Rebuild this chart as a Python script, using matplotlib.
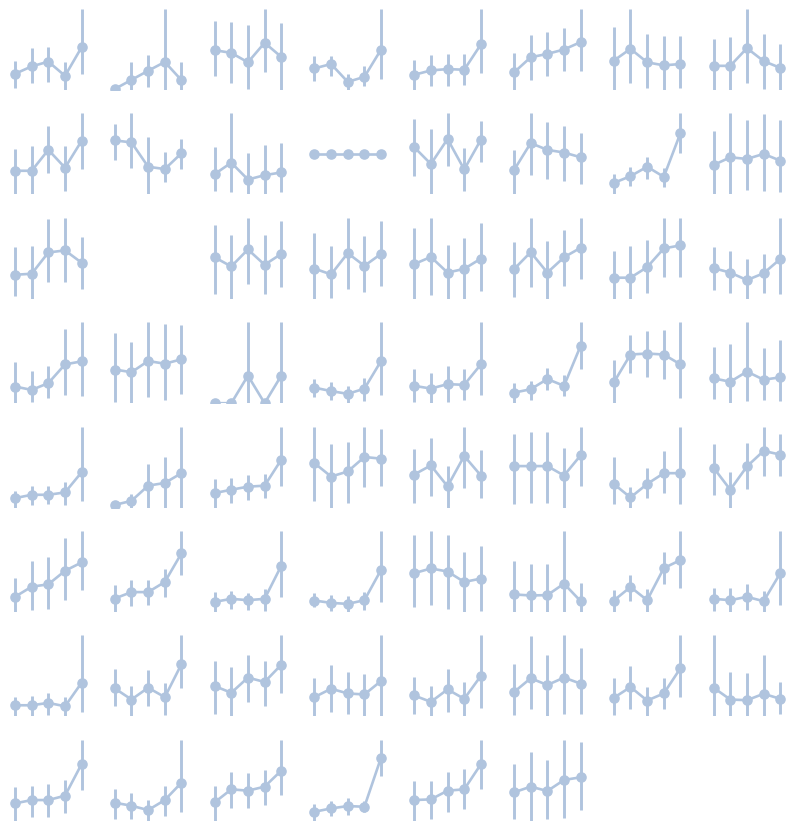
import matplotlib
matplotlib.use("Agg")
import matplotlib.pyplot as plt

# 8x8 grid of small panels, one slot is empty and the last row stops after 6
n_cols = 8
n_rows = 8
empty_slots = [17, 62, 63]
x_steps = [0, 1, 2, 3, 4]

# point estimate per step for each panel
point_means = [
    [48, 70, 84, 42, 127], [3, 30, 57, 83, 29], [118, 110, 82, 140, 98], [64, 77, 24, 39, 120],
    [45, 58, 62, 60, 135], [52, 97, 107, 120, 142], [87, 122, 82, 73, 77], [73, 73, 125, 87, 67],
    [70, 70, 132, 79, 159], [160, 154, 82, 75, 122], [60, 94, 44, 57, 65], [50, 50, 50, 50, 50],
    [140, 90, 164, 74, 162], [72, 152, 132, 124, 110], [34, 54, 82, 52, 182], [87, 110, 105, 120, 100],
    [74, 77, 139, 145, 109], [124, 97, 147, 102, 134], [92, 75, 137, 100, 135], [104, 125, 79, 90, 120],
    [89, 139, 79, 124, 152], [64, 64, 95, 150, 159], [92, 79, 57, 77, 119],
    [49, 39, 59, 114, 123], [99, 91, 124, 116, 129], [0, 0, 81, 0, 81], [49, 39, 31, 46, 126],
    [51, 43, 56, 54, 114], [31, 41, 71, 51, 169], [61, 143, 146, 143, 114], [73, 63, 93, 69, 76],
    [28, 38, 38, 45, 105], [8, 20, 65, 73, 102], [43, 53, 62, 65, 142], [132, 92, 107, 150, 145],
    [98, 125, 63, 153, 95], [123, 123, 123, 95, 155], [70, 30, 70, 102, 102], [118, 53, 122, 168, 157],
    [45, 75, 82, 122, 147], [40, 59, 59, 89, 174], [30, 39, 35, 39, 137], [34, 27, 24, 35, 125],
    [115, 129, 120, 89, 99], [52, 49, 50, 84, 32], [34, 74, 35, 130, 154], [39, 35, 45, 32, 115],
    [33, 33, 40, 30, 100], [83, 50, 85, 57, 155], [90, 70, 115, 102, 153], [57, 82, 68, 65, 105],
    [62, 43, 80, 52, 120], [72, 113, 93, 115, 97], [55, 87, 47, 68, 143], [85, 50, 48, 67, 52],
    [52, 62, 62, 75, 170], [54, 45, 32, 62, 114], [55, 94, 90, 102, 150], [27, 37, 44, 42, 189],
    [62, 64, 90, 94, 169], [85, 102, 89, 122, 130],
]
# lower end of each interval
ci_low = [
    [5, 22, 25, 0, 48], [3, 0, 8, 0, 0], [42, 22, 2, 52, 0], [28, 42, 0, 12, 32],
    [0, 12, 12, 15, 50], [0, 30, 42, 55, 55], [0, 20, 5, 0, 5], [2, 2, 22, 5, 2],
    [0, 0, 62, 10, 75], [102, 77, 0, 37, 75], [10, 7, 0, 0, 7], [50, 50, 50, 50, 50],
    [54, 0, 85, 10, 97], [0, 57, 47, 39, 32], [0, 24, 47, 22, 124], [0, 0, 12, 10, 7],
    [12, 4, 52, 54, 32], [17, 2, 45, 15, 37], [4, 7, 34, 24, 42], [2, 14, 2, 2, 24],
    [7, 37, 2, 40, 60], [2, 2, 20, 67, 67], [27, 20, 2, 20, 17],
    [0, 4, 14, 24, 21], [4, 0, 18, 9, 28], [0, 0, 0, 0, 0], [21, 14, 4, 11, 28],
    [4, 0, 4, 8, 24], [0, 9, 38, 21, 101], [0, 89, 76, 71, 16], [11, 0, 6, 8, 6],
    [0, 8, 10, 8, 20], [8, 0, 0, 0, 0], [0, 13, 23, 28, 63], [20, 0, 15, 60, 65],
    [13, 33, 0, 57, 27], [10, 13, 13, 0, 65], [10, 0, 27, 42, 10], [38, 0, 55, 95, 95],
    [0, 7, 10, 35, 65], [0, 17, 20, 44, 109], [0, 10, 7, 4, 44], [14, 4, 0, 7, 30],
    [14, 20, 10, 0, 2], [0, 0, 0, 0, 0], [0, 32, 0, 84, 72], [2, 0, 7, 0, 22],
    [0, 0, 5, 0, 13], [30, 0, 30, 5, 83], [8, 0, 42, 30, 68], [2, 12, 8, 2, 0],
    [8, 0, 12, 0, 25], [5, 22, 0, 8, 8], [5, 22, 0, 22, 57], [0, 0, 0, 0, 8],
    [0, 12, 12, 22, 92], [5, 5, 0, 15, 27], [0, 39, 39, 47, 77], [0, 14, 17, 25, 134],
    [0, 5, 25, 34, 94], [4, 0, 5, 7, 32],
]
# upper end of each interval
ci_high = [
    [85, 125, 127, 82, 240], [3, 83, 105, 240, 83], [205, 202, 194, 240, 200], [100, 100, 48, 70, 240],
    [88, 103, 107, 107, 240], [110, 163, 172, 183, 240], [187, 240, 167, 160, 160], [153, 157, 240, 168, 137],
    [135, 142, 202, 142, 240], [209, 240, 169, 127, 164], [139, 240, 122, 145, 152], [50, 50, 50, 50, 50],
    [222, 194, 240, 137, 217], [132, 240, 214, 202, 182], [60, 82, 110, 77, 240], [187, 240, 220, 237, 220],
    [154, 157, 237, 240, 184], [220, 190, 240, 190, 230], [195, 157, 240, 187, 230], [209, 240, 160, 182, 225],
    [169, 240, 172, 205, 240], [142, 157, 175, 240, 240], [154, 142, 119, 134, 240],
    [121, 94, 109, 218, 238], [206, 181, 238, 233, 229], [0, 0, 238, 0, 238], [73, 66, 54, 76, 238],
    [101, 88, 109, 101, 238], [58, 66, 104, 83, 238], [128, 199, 211, 214, 238], [166, 173, 238, 163, 186],
    [50, 65, 63, 75, 240], [8, 40, 130, 150, 240], [85, 88, 97, 100, 240], [240, 187, 195, 240, 233],
    [175, 207, 123, 240, 170], [218, 225, 225, 177, 240], [150, 60, 117, 168, 240], [188, 105, 192, 240, 218],
    [100, 150, 164, 220, 240], [79, 94, 94, 127, 240], [60, 62, 57, 67, 240], [55, 49, 47, 60, 240],
    [229, 240, 227, 177, 195], [150, 142, 142, 240, 87], [65, 109, 67, 177, 240], [72, 70, 82, 62, 240],
    [58, 60, 70, 57, 240], [140, 90, 137, 100, 240], [163, 145, 182, 163, 240], [115, 152, 133, 125, 240],
    [118, 90, 140, 103, 240], [155, 238, 182, 240, 202], [113, 148, 87, 115, 240], [240, 133, 128, 182, 102],
    [100, 105, 109, 122, 242], [95, 82, 62, 105, 242], [105, 145, 142, 152, 242], [49, 59, 67, 60, 242],
    [119, 119, 145, 155, 242], [170, 205, 182, 242, 235],
]

color = "lightsteelblue"
W, H = 795, 829
fig = plt.figure(figsize=(W / 100, H / 100), dpi=100)

# layout in pixels
unit = 16.67          # px per x step
pad = 0.3             # x padding in steps so edge markers aren't cut
col_gap = 99.8
row_gap = 104.4
panel_h = 81

slots = [s for s in range(n_rows * n_cols) if s not in empty_slots]
for k, slot in enumerate(slots):
    r, c = divmod(slot, n_cols)
    left = 15 + col_gap * c - pad * unit
    width = (4 + 2 * pad) * unit
    top = 10 + row_gap * r
    ax = fig.add_axes([left / W, 1 - (top + panel_h) / H, width / W, panel_h / H])

    m, lo, hi = point_means[k], ci_low[k], ci_high[k]
    ax.vlines(x_steps, lo, hi, color=color, lw=2.1)
    ax.plot(x_steps, m, "-o", color=color, lw=1.9, ms=6.6)

    ax.set_xlim(-pad, 4 + pad)
    y0, y1 = min(lo), max(hi)
    if y1 - y0 < 1e-9:
        y0, y1 = y0 - 1, y1 + 1
    ax.set_ylim(y0, y1)
    ax.axis("off")

fig.savefig("out.png", dpi=100)
